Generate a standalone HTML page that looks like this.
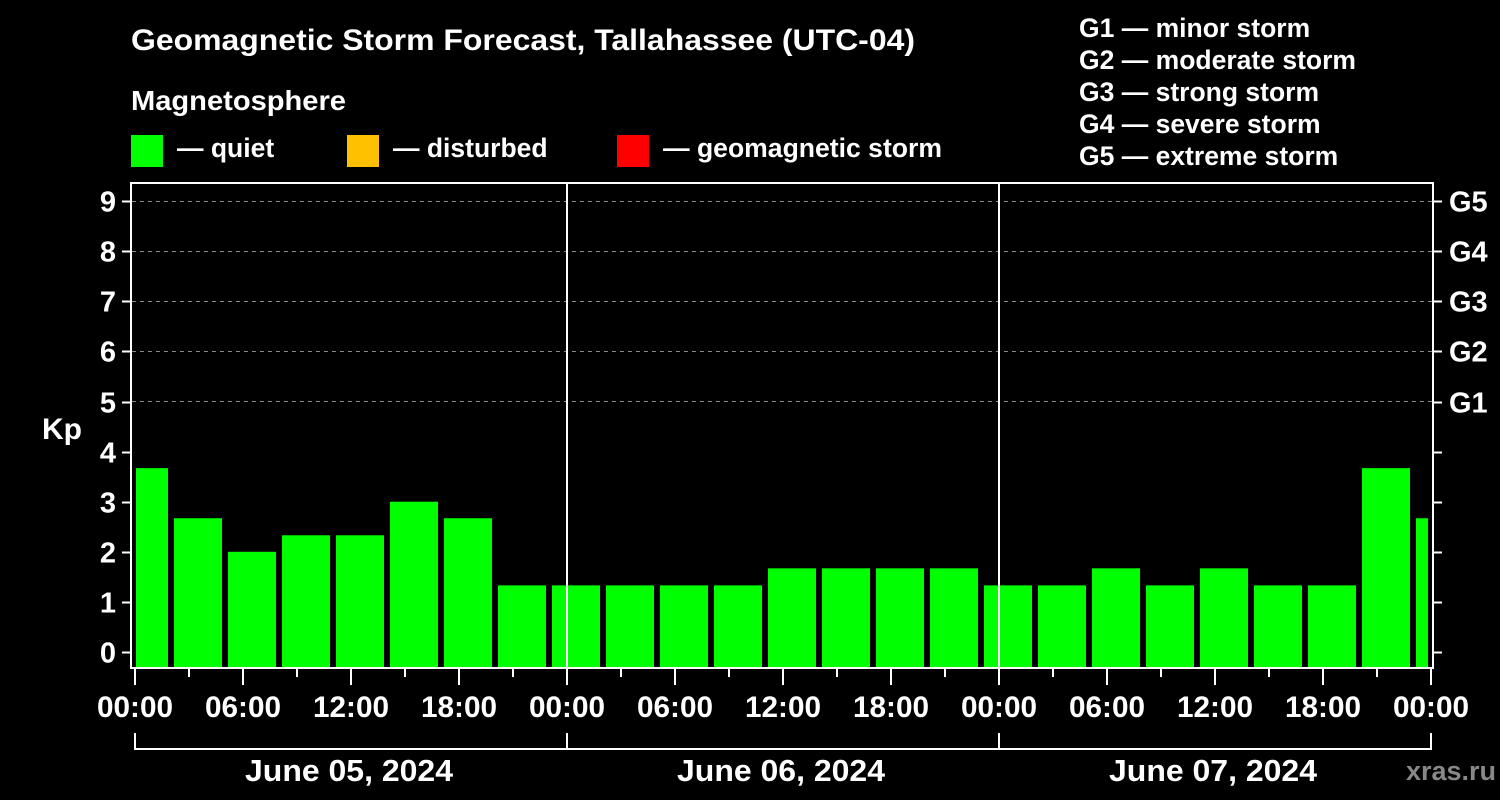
<!DOCTYPE html>
<html><head><style>body{margin:0;background:#000}svg{display:block}text{font-family:"Liberation Sans",Arial,sans-serif;font-weight:bold;fill:#fff}</style></head>
<body>
<svg width="1500" height="800" xmlns="http://www.w3.org/2000/svg">
<rect width="1500" height="800" fill="#000"/>
<text x="131" y="50" font-size="30" textLength="784" lengthAdjust="spacingAndGlyphs">Geomagnetic Storm Forecast, Tallahassee (UTC-04)</text>
<text x="131" y="110" font-size="28" textLength="215" lengthAdjust="spacingAndGlyphs">Magnetosphere</text>
<rect x="131" y="135" width="32" height="32" fill="#00ff00"/>
<text x="177" y="157" font-size="26.5">— quiet</text>
<rect x="347" y="135" width="32" height="32" fill="#ffc000"/>
<text x="393" y="157" font-size="26.5">— disturbed</text>
<rect x="617" y="135" width="32" height="32" fill="#ff0000"/>
<text x="663" y="157" font-size="26.5" textLength="279" lengthAdjust="spacingAndGlyphs">— geomagnetic storm</text>
<g font-size="26.5">
<text x="1079" y="37">G1 — minor storm</text>
<text x="1079" y="69" textLength="277" lengthAdjust="spacingAndGlyphs">G2 — moderate storm</text>
<text x="1079" y="101">G3 — strong storm</text>
<text x="1079" y="133">G4 — severe storm</text>
<text x="1079" y="165">G5 — extreme storm</text>
</g>
<g stroke="#888" stroke-dasharray="4,4" stroke-width="1">
<line x1="132" x2="1432" y1="201.5" y2="201.5"/><line x1="132" x2="1432" y1="251.5" y2="251.5"/><line x1="132" x2="1432" y1="301.5" y2="301.5"/><line x1="132" x2="1432" y1="351.5" y2="351.5"/><line x1="132" x2="1432" y1="401.5" y2="401.5"/>
</g>
<g fill="#00ff00" id="bars"></g>
<g stroke="#fff" stroke-width="2" fill="none">
<rect x="131" y="183" width="1302" height="485"/>
<line x1="567" x2="567" y1="183" y2="668"/><line x1="999" x2="999" y1="183" y2="668"/>
<path d="M135,733V749H1431V733M567,733V749M999,733V749"/>
</g>
<g id="ticks" stroke="#fff" stroke-width="2"></g>
<g font-size="29" text-anchor="end" id="yl"></g>
<g font-size="29" id="gl"></g>
<text x="42" y="439" font-size="30">Kp</text>
<g font-size="30" text-anchor="middle" id="xl"></g>
<g font-size="31" text-anchor="middle">
<text x="349" y="781" textLength="208" lengthAdjust="spacingAndGlyphs">June 05, 2024</text><text x="781" y="781" textLength="208" lengthAdjust="spacingAndGlyphs">June 06, 2024</text><text x="1213" y="781" textLength="208" lengthAdjust="spacingAndGlyphs">June 07, 2024</text>
</g>
<text x="1496" y="780" font-size="27" text-anchor="end" style="fill:#888">xras.ru</text>
<script>
var ns="http://www.w3.org/2000/svg";function el(p,t,a,tx){var e=document.createElementNS(ns,t);for(var k in a)e.setAttribute(k,a[k]);if(tx)e.textContent=tx;document.getElementById(p).appendChild(e);}
var v=[3.67,2.67,2,2.33,2.33,3,2.67,1.33,1.33,1.33,1.33,1.33,1.67,1.67,1.67,1.67,1.33,1.33,1.67,1.33,1.67,1.33,1.33,3.67,2.67];
function Y(k){return 652-k*50.1;}
v.forEach(function(k,i){var x0=120+54*i,x1=x0+48;x0=Math.max(x0,136);x1=Math.min(x1,1428);el("bars","rect",{x:x0,y:Y(k),width:x1-x0,height:668-Y(k)});});
for(var k=0;k<=9;k++){var y=Math.round(Y(k))+0.5;el("ticks","line",{x1:122,x2:131,y1:y,y2:y});el("ticks","line",{x1:1433,x2:1442,y1:y,y2:y});el("yl","text",{x:116,y:y+10},""+k);if(k>=5)el("gl","text",{x:1449,y:y+10},"G"+(k-4));}
for(var h=0;h<=72;h+=3){var x=135+18*h;var maj=h%6==0;el("ticks","line",{x1:x,x2:x,y1:668,y2:maj?685:677});if(maj){var hh=h%24;el("xl","text",{x:x,y:717,textLength:76,lengthAdjust:"spacingAndGlyphs"},(hh<10?"0":"")+hh+":00");}}
</script>
</svg>
</body></html>
